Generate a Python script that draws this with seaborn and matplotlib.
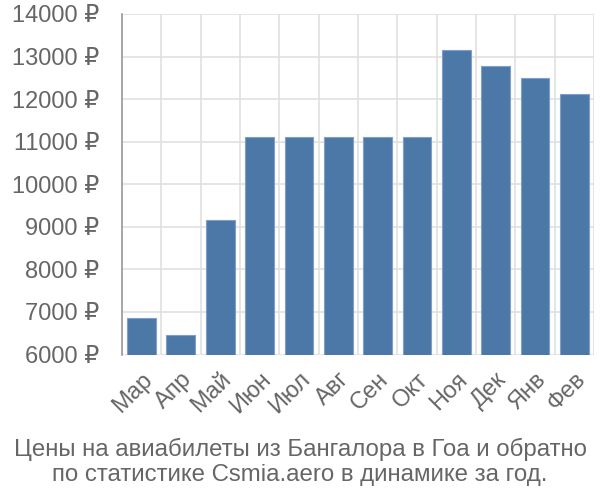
import matplotlib
matplotlib.use("Agg")
import matplotlib.pyplot as plt
import seaborn as sns
import pandas as pd
import numpy as np
from matplotlib.ticker import FixedLocator, FuncFormatter

months = ["Мар", "Апр", "Май", "Июн", "Июл", "Авг", "Сен", "Окт", "Ноя", "Дек", "Янв", "Фев"]
prices = [6847, 6447, 9160, 11106, 11106, 11106, 11106, 11106, 13144, 12780, 12494, 12125]
y_ticks = [6000, 7000, 8000, 9000, 10000, 11000, 12000, 13000, 14000]
title_lines = ["Цены на авиабилеты из Бангалора в Гоа и обратно",
               "по статистике Csmia.aero в динамике за год."]

sns.set_theme(style="white")
plt.rcParams['font.family'] = ['Liberation Sans', 'DejaVu Sans']

df = pd.DataFrame({"month": months, "price": prices})

fig = plt.figure(figsize=(6, 5), dpi=100)
ax = fig.add_axes([0.203, 0.291, 0.787, 0.681])

sns.barplot(data=df, x="month", y="price", color="#4c78a8", width=0.73,
            edgecolor="#7f9fc6", linewidth=0.8, saturation=1, ax=ax, zorder=3)

ax.set_ylim(6000, 14000)
ax.set_xlim(-0.5, len(months) - 0.5)
ax.yaxis.set_major_locator(FixedLocator(y_ticks))
ax.yaxis.set_major_formatter(FuncFormatter(lambda v, p: f"{int(v)} ₽"))
ax.grid(axis="y", color="#e0e0e0", linewidth=1.2, zorder=0)
ax.xaxis.set_minor_locator(FixedLocator(np.arange(-0.5, len(months), 1.0)))
ax.grid(axis="x", which="minor", color="#e0e0e0", linewidth=1.2, zorder=0)

ax.tick_params(axis="y", length=14, width=1.2, color="#e0e0e0", labelsize=17,
               labelcolor="#666666", pad=2)
ax.tick_params(axis="x", which="major", length=0, pad=10, labelsize=17,
               labelcolor="#666666")
ax.tick_params(axis="x", which="minor", length=14, width=1.2, color="#e0e0e0")
for lbl in ax.get_xticklabels():
    lbl.set_rotation(45)
    lbl.set_ha("right")
    lbl.set_rotation_mode("anchor")

ax.set_xlabel("")
ax.set_ylabel("")
for s in ["top", "right", "bottom"]:
    ax.spines[s].set_visible(False)
ax.spines["left"].set_color("#999999")
ax.spines["left"].set_linewidth(1.2)
ax.spines["left"].set_zorder(4)

fig.text(0.5, 0.102, title_lines[0], ha="center", va="center", fontsize=17.3, color="#666666")
fig.text(0.5, 0.049, title_lines[1], ha="center", va="center", fontsize=17.3, color="#666666")

fig.savefig("out.png", dpi=100)
